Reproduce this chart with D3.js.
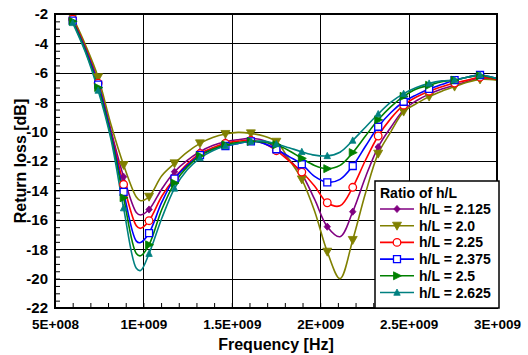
<!DOCTYPE html>
<html><head><meta charset="utf-8">
<script src="https://cdn.jsdelivr.net/npm/d3@7"></script>
<style>
html,body{margin:0;padding:0;background:#fff;}
svg text{font-family:Arial,"Liberation Sans",sans-serif;font-weight:bold;fill:#000;}
</style></head>
<body>
<svg id="c" width="528" height="355"></svg>
<script>
// Frequencies in GHz (line sample grid)
const freqs = [0.6,0.672,0.744,0.816,0.888,0.96,0.984,1.032,1.104,1.176,1.248,1.32,1.392,1.464,1.536,1.608,1.68,1.752,1.824,1.896,1.968,2.04,2.112,2.184,2.256,2.328,2.4,2.472,2.544,2.616,2.688,2.76,2.832,2.904,3.0];
// frequencies where markers are drawn
const markerFreqs = [0.6,0.744,0.888,1.032,1.176,1.32,1.464,1.608,1.752,1.896,2.04,2.184,2.328,2.472,2.616,2.76,2.904];

const seriesNames = ["h/L = 2.125","h/L = 2.0","h/L = 2.25","h/L = 2.375","h/L = 2.5","h/L = 2.625"];
const rl_2125 = [-2.3,-4.25,-6.6,-9.9,-13.07,-15.5,-15.67,-15.3,-13.9,-12.73,-11.95,-11.37,-10.95,-10.69,-10.55,-10.46,-10.6,-11.14,-11.9,-12.9,-14.6,-16.47,-17.15,-15.45,-13.1,-11.05,-9.7,-8.53,-7.9,-7.45,-7.1,-6.85,-6.6,-6.35,-6.45];
const rl_200  = [-2.2,-4.1,-6.3,-9.5,-12.27,-14.45,-14.7,-14.43,-13.0,-12.16,-11.4,-10.8,-10.4,-10.16,-10.05,-10.12,-10.3,-10.69,-11.9,-13.25,-15.4,-18.17,-20.0,-17.37,-14.2,-11.5,-10.0,-8.64,-8.1,-7.62,-7.25,-6.94,-6.65,-6.45,-6.5];
const rl_225  = [-2.35,-4.3,-6.7,-10.0,-13.6,-16.4,-16.58,-16.06,-14.4,-13.18,-12.2,-11.5,-11.1,-10.8,-10.65,-10.6,-10.8,-11.3,-12.0,-12.75,-13.7,-14.84,-15.05,-13.79,-11.95,-10.3,-9.1,-8.2,-7.65,-7.25,-6.95,-6.7,-6.5,-6.3,-6.45];
const rl_2375 = [-2.45,-4.4,-6.8,-10.1,-14.1,-17.45,-17.55,-16.9,-14.8,-13.2,-12.3,-11.6,-11.2,-10.98,-10.8,-10.67,-10.8,-11.2,-11.7,-12.22,-13.05,-13.45,-13.25,-12.34,-11.0,-9.67,-8.7,-7.97,-7.5,-7.1,-6.8,-6.5,-6.3,-6.15,-6.4];
const rl_250  = [-2.5,-4.5,-7.0,-10.3,-14.5,-18.3,-18.45,-17.7,-15.3,-13.5,-12.4,-11.65,-11.2,-10.9,-10.75,-10.67,-10.7,-10.9,-11.3,-11.82,-12.3,-12.52,-12.3,-11.43,-10.3,-9.2,-8.3,-7.6,-7.1,-6.85,-6.6,-6.5,-6.3,-6.2,-6.4];
const rl_2625 = [-2.6,-4.6,-7.2,-10.5,-15.2,-19.3,-19.45,-18.3,-15.9,-13.86,-12.6,-11.8,-11.3,-10.98,-10.8,-10.67,-10.65,-10.84,-11.1,-11.37,-11.6,-11.65,-11.4,-10.6,-9.7,-8.8,-8.0,-7.42,-7.0,-6.72,-6.55,-6.49,-6.3,-6.15,-6.4];
const seriesValues = [rl_2125, rl_200, rl_225, rl_2375, rl_250, rl_2625];
const seriesColors = ["#800080","#808000","#ff0000","#0000ff","#008000","#008080"];
const seriesMarkers = ["diamond","triDown","circle","square","triRight","triUp"];

const xTicks = [5e8,1e9,1.5e9,2e9,2.5e9,3e9];
const xTickLabels = ["5E+008","1E+009","1.5E+009","2E+009","2.5E+009","3E+009"];
const yTicks = [-22,-20,-18,-16,-14,-12,-10,-8,-6,-4,-2];
const yTickLabels = ["-22","-20","-18","-16","-14","-12","-10","-8","-6","-4","-2"];

const L=55, R=497, T=14, B=308;
const svg = d3.select("#c");
const x = d3.scaleLinear().domain([5e8,3e9]).range([L,R]);
const y = d3.scaleLinear().domain([-22,-2]).range([B,T]);

// grid
const g = svg.append("g");
g.selectAll(".hg").data(yTicks).enter().append("line")
  .attr("x1",L).attr("x2",R).attr("y1",d=>Math.round(y(d))+0.5).attr("y2",d=>Math.round(y(d))+0.5)
  .attr("stroke","#000").attr("stroke-width",1);
g.selectAll(".vg").data(xTicks).enter().append("line")
  .attr("y1",T).attr("y2",B).attr("x1",d=>Math.round(x(d))+0.5).attr("x2",d=>Math.round(x(d))+0.5)
  .attr("stroke","#000").attr("stroke-width",1);

// minor ticks
const xMinor = d3.range(5e8,3e9+1,1e8);
svg.append("g").attr("transform",`translate(0,${B})`)
  .call(d3.axisBottom(x).tickValues(xMinor).tickSize(-5).tickFormat(""))
  .call(s=>s.select(".domain").remove())
  .call(s=>s.selectAll("line").attr("stroke","#000"));
const yMinor = d3.range(-22,-2+0.01,0.5);
svg.append("g").attr("transform",`translate(${L},0)`)
  .call(d3.axisLeft(y).tickValues(yMinor).tickSize(-5).tickFormat(""))
  .call(s=>s.select(".domain").remove())
  .call(s=>s.selectAll("line").attr("stroke","#000"));

// tick labels
svg.append("g").attr("transform",`translate(0,${B})`)
  .call(d3.axisBottom(x).tickValues(xTicks).tickSize(0).tickPadding(11).tickFormat((d,i)=>xTickLabels[i]))
  .call(s=>s.select(".domain").remove())
  .call(s=>s.selectAll("text").style("font-size","13.5px").style("font-family","Arial, 'Liberation Sans', sans-serif").style("font-weight","bold").attr("fill","#000"));
svg.append("g").attr("transform",`translate(${L},0)`)
  .call(d3.axisLeft(y).tickValues(yTicks).tickSize(0).tickPadding(7).tickFormat((d,i)=>yTickLabels[i]))
  .call(s=>s.select(".domain").remove())
  .call(s=>s.selectAll("text").style("font-size","15px").style("font-family","Arial, 'Liberation Sans', sans-serif").style("font-weight","bold").attr("fill","#000"));

// series
const clip = svg.append("clipPath").attr("id","pc").append("rect").attr("x",L).attr("y",T).attr("width",R-L).attr("height",B-T);
const line = d3.line().x(d=>x(d[0]*1e9)).y(d=>y(d[1])).curve(d3.curveCatmullRom.alpha(0.5));

function markerPath(type){
  switch(type){
    case "diamond": return "M0,-3.6L3.2,0L0,3.6L-3.2,0Z";
    case "triDown": return "M-4.5,-3.5L4.5,-3.5L0,4.5Z";
    case "triUp": return "M0,-3.5L3.2,2.8L-3.2,2.8Z";
    case "triRight": return "M-3.5,-4L4.5,0L-3.5,4Z";
    case "square": return "M-3.5,-3.5H3.5V3.5H-3.5Z";
    case "circle": return "M3.8,0A3.8,3.8 0 1,1 -3.8,0A3.8,3.8 0 1,1 3.8,0Z";
  }
}
function drawMarker(sel, type, color){
  const open = (type==="circle"||type==="square");
  sel.append("path").attr("d",markerPath(type))
    .attr("fill", open ? "#fff" : color)
    .attr("stroke", color).attr("stroke-width", open?1.3:0.8);
}

const plot = svg.append("g").attr("clip-path","url(#pc)");
seriesValues.forEach((vals,si)=>{
  const pts = freqs.map((f,i)=>[f,vals[i]]);
  plot.append("path").attr("d",line(pts)).attr("fill","none")
    .attr("stroke",seriesColors[si]).attr("stroke-width",1.6);
  const mk = pts.filter(p=>markerFreqs.some(m=>Math.abs(m-p[0])<1e-6));
  mk.forEach(p=>{
    const gg = svg.append("g").attr("transform",`translate(${x(p[0]*1e9)},${y(p[1])})`);
    drawMarker(gg, seriesMarkers[si], seriesColors[si]);
  });
});

// frame
svg.append("rect").attr("x",L).attr("y",T).attr("width",R-L).attr("height",B-T)
  .attr("fill","none").attr("stroke","#000").attr("stroke-width",2);

// axis titles
svg.append("text").attr("x",(L+R)/2).attr("y",350).attr("text-anchor","middle")
  .style("font-size","16px").text("Frequency [Hz]");
svg.append("text").attr("transform",`translate(26,${(T+B)/2}) rotate(-90)`).attr("text-anchor","middle")
  .style("font-size","16px").text("Return loss [dB]");

// legend
const lg = svg.append("g");
lg.append("rect").attr("x",375).attr("y",181).attr("width",124).attr("height",127)
  .attr("fill","#fff").attr("stroke","#000").attr("stroke-width",1.5);
lg.append("text").attr("x",380).attr("y",198).style("font-size","14px").text("Ratio of h/L");
seriesNames.forEach((n,i)=>{
  const cy = 209 + i*16.7;
  lg.append("line").attr("x1",380).attr("x2",414).attr("y1",cy).attr("y2",cy)
    .attr("stroke",seriesColors[i]).attr("stroke-width",1.6);
  const mg = lg.append("g").attr("transform",`translate(397,${cy})`);
  drawMarker(mg, seriesMarkers[i], seriesColors[i]);
  lg.append("text").attr("x",419).attr("y",cy+5).style("font-size","14px").text(n);
});
</script>
</body></html>
